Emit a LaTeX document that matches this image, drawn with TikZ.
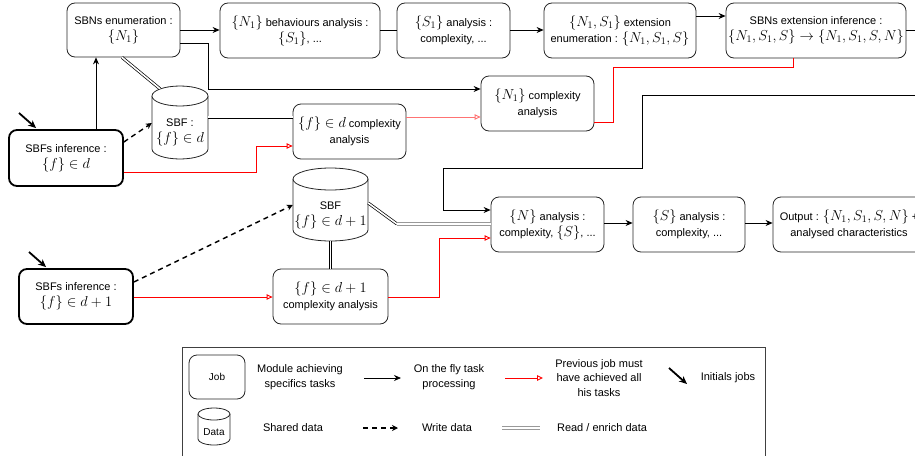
\documentclass[tikz,border=0pt]{standalone}
\usepackage{fontspec}
\setmainfont{Liberation Sans}
\usetikzlibrary{arrows.meta,calc}
\newcommand\mm[1]{{\fontsize{14}{14}\selectfont$#1$}}
% cylinder: #1 name, #2 left, #3 top, #4 right, #5 bottom, #6 ry, #7 text
\newcommand\mycyl[7]{%
  \draw[cylline] (#2,#3+#6) -- (#2,#5-#6)
     arc[start angle=180,end angle=0,x radius={(#4-#2)/2},y radius=#6]
     -- (#4,#3+#6)
     arc[start angle=0,end angle=-180,x radius={(#4-#2)/2},y radius=#6] -- cycle;
  \draw[cylline] (#2,#3+#6) arc[start angle=180,end angle=0,x radius={(#4-#2)/2},y radius=#6];
  \node[inner sep=0pt, minimum width={#4-#2}, minimum height={#5-#3}] (#1) at ({(#2+#4)/2},{(#3+#5)/2}) {};
  \node[align=center, inner sep=0pt] (#1t) at ({(#2+#4)/2},{(#3+2*#6+#5)/2}) {#7};
}
\begin{document}
\begin{tikzpicture}[x=1pt,y=-1pt,
  font=\fontsize{11}{16}\selectfont,
  legtxt/.style={align=center, font=\fontsize{11}{14.5}\selectfont},
  job/.style={draw=black!85, line width=0.8pt, rounded corners=8pt, align=center, inner sep=2pt, fill=white},
  initjob/.style={job, line width=1.8pt, draw=black},
  cylline/.style={draw=black!85, line width=0.8pt, fill=white},
  arr/.style={draw=black, line width=0.8pt, -{Stealth[length=7pt,width=6pt]}},
  ln/.style={draw=black, line width=0.8pt},
  redarr/.style={draw=red, line width=0.9pt, -{Triangle[open,length=6pt,width=5.5pt]}},
  redln/.style={draw=red, line width=0.9pt},
  wr/.style={draw=black, line width=1.4pt, dash pattern=on 5pt off 4pt, -{Stealth[length=6pt,width=6pt]}},
  dbl/.style={draw=black, line width=0.7pt, double=white, double distance=1.6pt},
  dblg/.style={draw=black!40, line width=0.8pt, double=white, double distance=2pt},
  init/.style={draw=black, line width=1.8pt, -{Stealth[length=8pt,width=7pt]}}
]
\useasboundingbox (0,0) rectangle (915,455);
\clip (0,0) rectangle (915,455);

% ---------- top row ----------
\node[job, minimum width=113, minimum height=54] (b1) at (123.5,30) {SBNs enumeration :\\\mm{\{N_1\}}};
\node[job, minimum width=160, minimum height=55] (b2) at (300,30.5) {\mm{\{N_1\}} behaviours analysis :\\\mm{\{S_1\}}, ...};
\node[job, minimum width=113, minimum height=55] (b3) at (453.5,30.5) {\mm{\{S_1\}} analysis :\\complexity, ...};
\node[job, minimum width=152, minimum height=55] (b4) at (620,30.5) {\mm{\{N_1,S_1\}} extension\\enumeration : \mm{\{N_1,S_1,S\}}};
\node[job, minimum width=180, minimum height=55] (b5) at (816,30.5) {SBNs extension inference :\\\mm{\{N_1,S_1,S\}\rightarrow\{N_1,S_1,S,N\}}};

\node[job, minimum width=113, minimum height=55] (nc) at (537.5,103.5) {\mm{\{N_1\}} complexity\\analysis};

% ---------- d level ----------
\mycyl{cd}{152}{86}{208}{159}{10}{SBF :\\\mm{\{f\}\in d}}
\node[initjob, minimum width=114, minimum height=56] (si1) at (66,158) {SBFs inference :\\\mm{\{f\}\in d}};
\node[job, minimum width=113, minimum height=55] (fdc) at (349.5,131.5) {\mm{\{f\}\in d} complexity\\analysis};

% ---------- d+1 level ----------
\mycyl{cdd}{293}{168}{368}{241}{11}{SBF\\\mm{\{f\}\in d+1}}
\node[initjob, minimum width=114, minimum height=55] (si2) at (76,296.5) {SBFs inference :\\\mm{\{f\}\in d+1}};
\node[job, minimum width=115, minimum height=55] (fddc) at (330.5,296.5) {\mm{\{f\}\in d+1}\\complexity analysis};

% ---------- analysis row ----------
\node[job, minimum width=113, minimum height=55] (nan) at (547.5,224.5) {\mm{\{N\}} analysis :\\complexity, \mm{\{S\}}, ...};
\node[job, minimum width=112, minimum height=55] (san) at (689,224.5) {\mm{\{S\}} analysis :\\complexity, ...};
\node[job, minimum width=152, minimum height=55] (out) at (849,224.5) {Output : \mm{\{N_1,S_1,S,N\}} +\\analysed characteristics};

\coordinate (offA) at (925,30);
\coordinate (offB) at (925,95);
\coordinate (i1) at (19,113);
\coordinate (i2) at (29,252);

% ---------- connectors ----------
\draw[arr] (b1.east |- 0,30) -- (b2.west |- 0,30);
\draw[ln] (b2.east |- 0,30) -- (b3.west |- 0,30);
\draw[arr] (b3.east |- 0,30) -- (b4.west |- 0,30);
\draw[arr] (b4.east |- 0,16) -- (b5.west |- 0,16);
\draw[ln] (b5.east |- 0,30) -- (offA);
\draw[arr] (b1.east |- 0,43) -- (208,43) -- (208,89) -- (nc.west |- 0,89);
\draw[arr] (si1.north -| 96,0) -- (b1.south -| 96,0);
\draw[dbl] (b1.south -| 122,0) -- ($(cd.north)+(-20,3)$);
\draw[wr] (si1.east |- 0,142) -- (cd.west |- 0,123);
\draw[redarr] (si1.east |- 0,172) -- (256,172) -- (256,146) -- (fdc.west |- 0,146);
\draw[dbl] (cd.east |- 0,117) -- (fdc.west |- 0,117);
\draw[redarr, draw=red!55] (fdc.east |- 0,117) -- (nc.west |- 0,117);
\draw[redln] (nc.east |- 0,122) -- (613,122) -- (613,67) -- (793,67) -- (b5.south -| 793,0);
\draw[arr] (offB) -- (642,95) -- (642,168) -- (443,168) -- (443,210) -- (nan.west |- 0,210);

\draw[wr] (si2.east |- 0,282) -- (cdd.west |- 0,205);
\draw[redarr] (si2.east |- 0,297) -- (fddc.west |- 0,297);
\draw[dbl] (cdd.south) -- (fddc.north);
\coordinate (dj) at (397,224);
\draw[dbl] (cdd.east |- 0,203) -- (dj);
\draw[dblg] (dj) -- (nan.west |- 0,224);
\draw[redarr] (fddc.east |- 0,297) -- (439,297) -- (439,238) -- (nan.west |- 0,238);
\draw[arr] (nan.east |- 0,223) -- (san.west |- 0,223);
\draw[arr] (san.east |- 0,223) -- (out.west |- 0,223);

\draw[init] (i1) -- ($(si1.north west)+(28,-1)$);
\draw[init] (i2) -- ($(si2.north west)+(28,-1)$);

% ---------- legend ----------
\node[draw=black!75, line width=0.8pt, minimum width=583, minimum height=140, anchor=north west, inner sep=0pt] (leg) at (182,347) {};
\node[job, minimum width=56, minimum height=44, font=\fontsize{10}{12}\selectfont] (ljob) at (217,377) {Job};
\node[legtxt] (lt1) at (300,377) {Module achieving\\specifics tasks};
\coordinate (la1) at (364,378); \coordinate (la2) at (401,378);
\draw[arr] (la1) -- (la2);
\node[legtxt] (lt2) at (449,377) {On the fly task\\processing};
\coordinate (lr1) at (505,378); \coordinate (lr2) at (543,378);
\draw[redarr] (lr1) -- (lr2);
\node[legtxt] (lt3) at (599,378) {Previous job must\\have achieved all\\his tasks};
\coordinate (li1) at (669,368); \coordinate (li2) at (687,384);
\draw[init] (li1) -- (li2);
\node[legtxt] (lt4) at (728,378) {Initials jobs};
\mycyl{ldata}{198}{408}{230}{445}{6}{\fontsize{10}{12}\selectfont Data}
\node[legtxt] (lt5) at (293,428) {Shared data};
\coordinate (lw1) at (363,428); \coordinate (lw2) at (398,428);
\draw[wr] (lw1) -- (lw2);
\node[legtxt] (lt6) at (447,428) {Write data};
\coordinate (ld1) at (502,428); \coordinate (ld2) at (540,428);
\draw[dblg] (ld1) -- (ld2);
\node[legtxt] (lt7) at (602,428) {Read / enrich data};
\end{tikzpicture}
\end{document}
